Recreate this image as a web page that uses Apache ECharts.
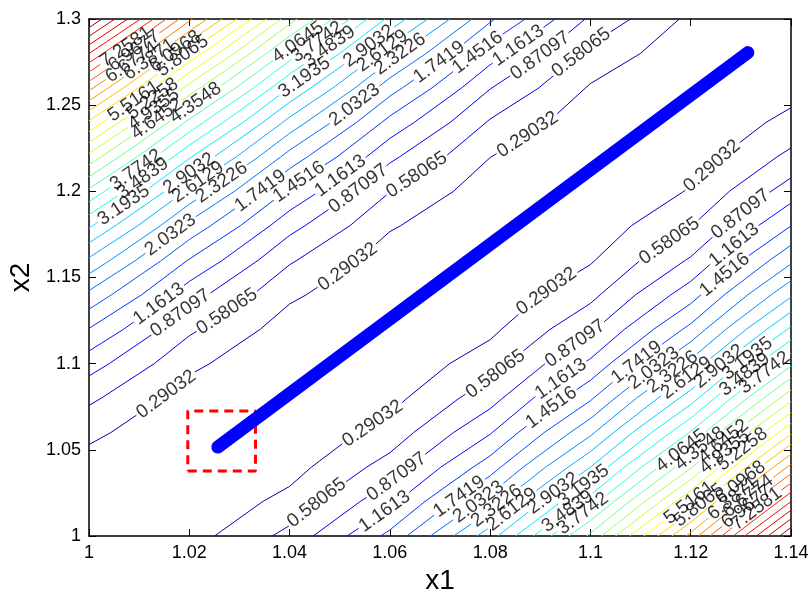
<!DOCTYPE html>
<html>
<head>
<meta charset="utf-8">
<script src="https://cdn.jsdelivr.net/npm/echarts@6/dist/echarts.min.js"></script>
<style>
  html, body { margin: 0; padding: 0; background: #fff; }
  #chart { width: 811px; height: 596px; }
</style>
</head>
<body>
<div id="chart"></div>
<script>
const FONT = '"Liberation Sans", Arial, Helvetica, sans-serif';
const LABEL_SIZE = 19;

// axis ranges
const x1Range = [1, 1.14];
const x2Range = [1, 1.3];

// nodes on which the surface is sampled
const gridX1 = [1.00, 1.02, 1.04, 1.06, 1.08, 1.10, 1.12, 1.14];
const gridX2 = [1.00, 1.02, 1.04, 1.06, 1.08, 1.10, 1.12, 1.14,
                1.16, 1.18, 1.20, 1.22, 1.24, 1.26, 1.28, 1.30];

// contour levels
const contourLevels = [0.29032, 0.58065, 0.87097, 1.1613, 1.4516, 1.7419, 2.0323, 2.3226,
  2.6129, 2.9032, 3.1935, 3.4839, 3.7742, 4.0645, 4.3548, 4.6452, 4.9355, 5.2258,
  5.5161, 5.8065, 6.0968, 6.3871, 6.6774, 6.9677, 7.2581, 7.5484, 7.8387, 8.129,
  8.4194, 8.7097];
const zRange = [0, 9];

// iterate path of the optimiser
const pathX1 = [1.0257, 1.1314];
const pathX2 = [1.0516, 1.2805];

// starting-region box
const boxX1 = [1.0197, 1.0332];
const boxX2 = [1.0377, 1.0726];

// contour label anchors: [level, x1, x2]
const labelAnchors = [
  [0.29032, 1.0147, 1.0846], [0.29032, 1.0520, 1.1544], [0.29032, 1.0875, 1.2328],
  [0.58065, 1.0276, 1.1299], [0.58065, 1.0660, 1.2067], [0.58065, 1.0985, 1.2794],
  [0.87097, 1.0185, 1.1282], [0.87097, 1.0534, 1.2026], [0.87097, 1.0901, 1.2782],
  [1.1613, 1.0141, 1.1340], [1.1613, 1.0500, 1.2096], [1.1613, 1.0859, 1.2834],
  [1.4516, 1.0420, 1.2049], [1.4516, 1.0775, 1.2805],
  [1.7419, 1.0340, 1.2009], [1.7419, 1.0699, 1.2747],
  [2.0323, 1.0167, 1.1730], [2.0323, 1.0530, 1.2500],
  [2.3226, 1.0264, 1.2055], [2.3226, 1.0624, 1.2782],
  [2.6129, 1.0221, 1.2038], [2.6129, 1.0586, 1.2811],
  [2.9032, 1.0197, 1.2113], [2.9032, 1.0556, 1.2852],
  [3.1935, 1.0073, 1.1904], [3.1935, 1.0430, 1.2660],
  [3.4839, 1.0107, 1.2078], [3.4839, 1.0484, 1.2823],
  [3.7742, 1.0091, 1.2137], [3.7742, 1.0456, 1.2863],
  [4.0645, 1.0416, 1.2869],
  [4.3548, 1.0211, 1.2520], [4.6452, 1.0125, 1.2462], [4.9355, 1.0121, 1.2509],
  [5.2258, 1.0117, 1.2578], [5.5161, 1.0087, 1.2532], [5.8065, 1.0185, 1.2794],
  [6.0968, 1.0165, 1.2840], [6.3871, 1.0117, 1.2782], [6.6774, 1.0081, 1.2765],
  [6.9677, 1.0091, 1.2811], [7.2581, 1.0073, 1.2840],

  [0.29032, 1.0571, 1.0625], [0.29032, 1.0923, 1.1369], [0.29032, 1.1254, 1.2113],
  [0.58065, 1.0460, 1.0172], [0.58065, 1.0813, 1.0933], [0.58065, 1.1160, 1.1701],
  [0.87097, 1.0616, 1.0334], [0.87097, 1.0969, 1.1119], [0.87097, 1.1308, 1.1834],
  [1.1613, 1.0591, 1.0137], [1.1613, 1.0943, 1.0904], [1.1613, 1.1290, 1.1677],
  [1.4516, 1.0923, 1.0741], [1.4516, 1.1268, 1.1515],
  [1.7419, 1.0739, 1.0224], [1.7419, 1.1093, 1.1003],
  [2.0323, 1.0779, 1.0189], [2.0323, 1.1125, 1.0980],
  [2.3226, 1.0815, 1.0166], [2.3226, 1.1164, 1.0951],
  [2.6129, 1.0845, 1.0148], [2.6129, 1.1192, 1.0916],
  [2.9032, 1.0929, 1.0235], [2.9032, 1.1246, 1.1020],
  [3.1935, 1.0989, 1.0282], [3.1935, 1.1305, 1.1061],
  [3.4839, 1.0953, 1.0148], [3.4839, 1.1309, 1.0933],
  [3.7742, 1.0985, 1.0131], [3.7742, 1.1354, 1.0922],
  [4.0645, 1.1188, 1.0468], [4.3548, 1.1218, 1.0509], [4.6452, 1.1272, 1.0526],
  [4.9355, 1.1278, 1.0451], [5.2258, 1.1308, 1.0485], [5.5161, 1.1194, 1.0206],
  [5.8065, 1.1214, 1.0189], [6.0968, 1.1304, 1.0294], [6.3871, 1.1284, 1.0218],
  [6.6774, 1.1318, 1.0218], [6.9677, 1.1314, 1.0160], [7.2581, 1.1334, 1.0148]
];

// Rosenbrock objective
function objective(x1, x2) {
  return 100 * (x2 - x1 * x1) * (x2 - x1 * x1) + (1 - x1) * (1 - x1);
}

// 64-entry jet colormap
function jetMap(m) {
  const n = Math.ceil(m / 4), u = [];
  for (let k = 1; k <= n; k++) u.push(k / n);
  for (let k = 1; k < n; k++) u.push(1);
  for (let k = n; k >= 1; k--) u.push(k / n);
  const cmap = Array.from({ length: m }, () => [0, 0, 0]);
  const g0 = Math.ceil(n / 2) - (m % 4 === 1 ? 1 : 0);
  u.forEach((val, k) => {
    const g = g0 + k + 1, r = g + n, b = g - n;
    if (g >= 1 && g <= m) cmap[g - 1][1] = val;
    if (r >= 1 && r <= m) cmap[r - 1][0] = val;
    if (b >= 1 && b <= m) cmap[b - 1][2] = val;
  });
  return cmap;
}
const JET = jetMap(64);
function levelColor(level) {
  const idx = Math.max(0, Math.min(63, Math.floor((level - zRange[0]) / (zRange[1] - zRange[0]) * 64)));
  const c = JET[idx];
  return 'rgb(' + c.map(v => Math.round(v * 255)).join(',') + ')';
}

const field = gridX2.map(y => gridX1.map(x => objective(x, y)));

// marching squares: returns polylines (data coords) for one level
function traceLevel(level) {
  const nx = gridX1.length, ny = gridX2.length;
  const pts = {}, links = {};
  const above = (i, j) => field[j][i] >= level;
  function edge(i0, j0, i1, j1) {
    const key = i0 + ',' + j0 + ',' + i1 + ',' + j1;
    if (!pts[key]) {
      const a = field[j0][i0], b = field[j1][i1];
      const t = (level - a) / (b - a);
      pts[key] = [gridX1[i0] + t * (gridX1[i1] - gridX1[i0]),
                  gridX2[j0] + t * (gridX2[j1] - gridX2[j0])];
    }
    return key;
  }
  function link(a, b) {
    (links[a] = links[a] || []).push(b);
    (links[b] = links[b] || []).push(a);
  }
  for (let j = 0; j < ny - 1; j++) {
    for (let i = 0; i < nx - 1; i++) {
      const bl = above(i, j), br = above(i + 1, j), tr = above(i + 1, j + 1), tl = above(i, j + 1);
      const B = bl !== br ? edge(i, j, i + 1, j) : null;
      const R = br !== tr ? edge(i + 1, j, i + 1, j + 1) : null;
      const T = tl !== tr ? edge(i, j + 1, i + 1, j + 1) : null;
      const L = bl !== tl ? edge(i, j, i, j + 1) : null;
      const crossed = [B, R, T, L].filter(Boolean);
      if (crossed.length === 2) {
        link(crossed[0], crossed[1]);
      } else if (crossed.length === 4) {
        const centre = (field[j][i] + field[j][i + 1] + field[j + 1][i + 1] + field[j + 1][i]) / 4 >= level;
        if (centre === bl) { link(B, R); link(T, L); } else { link(B, L); link(R, T); }
      }
    }
  }
  const used = new Set(), lines = [];
  const walk = start => {
    const chain = [start];
    used.add(start);
    let cur = start;
    for (;;) {
      const nxt = links[cur].find(k => !used.has(k));
      if (!nxt) break;
      used.add(nxt);
      chain.push(nxt);
      cur = nxt;
    }
    return chain.map(k => pts[k]);
  };
  const keys = Object.keys(links);
  keys.filter(k => links[k].length === 1).forEach(k => { if (!used.has(k)) lines.push(walk(k)); });
  keys.forEach(k => {
    if (!used.has(k)) { const c = walk(k); c.push(c[0]); lines.push(c); }
  });
  return lines.filter(l => l.length > 1);
}

const chart = echarts.init(document.getElementById('chart'), null, { renderer: 'canvas' });

const axisBase = {
  type: 'value',
  axisLine: { show: true, onZero: false, lineStyle: { color: '#000', width: 1.5 } },
  axisTick: { show: true, inside: true, length: 7, lineStyle: { color: '#000', width: 1 } },
  splitLine: { show: false },
  minorTick: { show: false }
};
const tickText = { fontSize: 18, fontFamily: FONT, color: '#000' };
const nameText = { fontSize: 28, fontFamily: FONT, color: '#000' };

chart.setOption({
  animation: false,
  backgroundColor: '#fff',
  grid: { left: 89, right: 20, top: 19, bottom: 60, containLabel: false, outerBoundsMode: 'none' },
  xAxis: [
    Object.assign({}, axisBase, {
      min: x1Range[0], max: x1Range[1], interval: 0.02, position: 'bottom',
      name: 'x1', nameLocation: 'middle', nameGap: 29, nameTextStyle: nameText,
      axisLabel: Object.assign({ margin: 8 }, tickText)
    }),
    Object.assign({}, axisBase, {
      min: x1Range[0], max: x1Range[1], interval: 0.02, position: 'top',
      axisLabel: { show: false }
    })
  ],
  yAxis: [
    Object.assign({}, axisBase, {
      min: x2Range[0], max: x2Range[1], interval: 0.05, position: 'left',
      name: 'x2', nameLocation: 'middle', nameGap: 52, nameTextStyle: nameText,
      axisLabel: Object.assign({ margin: 8 }, tickText)
    }),
    Object.assign({}, axisBase, {
      min: x2Range[0], max: x2Range[1], interval: 0.05, position: 'right',
      axisLabel: { show: false }
    })
  ],
  series: []
});

const toPx = p => chart.convertToPixel({ xAxisIndex: 0, yAxisIndex: 0 }, p);

function makePoly(data) {
  const pix = data.map(toPx);
  const cum = [0];
  for (let k = 1; k < pix.length; k++) {
    cum.push(cum[k - 1] + Math.hypot(pix[k][0] - pix[k - 1][0], pix[k][1] - pix[k - 1][1]));
  }
  return { data, pix, cum };
}

function pointAt(poly, s) {
  const c = poly.cum;
  let k = 0;
  while (k < c.length - 2 && c[k + 1] < s) k++;
  const span = (c[k + 1] - c[k]) || 1;
  const t = Math.max(0, Math.min(1, (s - c[k]) / span));
  const lerp = (u, v) => [u[0] + t * (v[0] - u[0]), u[1] + t * (v[1] - u[1])];
  return { data: lerp(poly.data[k], poly.data[k + 1]), pix: lerp(poly.pix[k], poly.pix[k + 1]) };
}

function splitPoly(poly, intervals) {
  const total = poly.cum[poly.cum.length - 1];
  const sorted = intervals.slice().sort((a, b) => a[0] - b[0]);
  const keep = [];
  let start = 0;
  sorted.forEach(([a, b]) => {
    if (a > start) keep.push([start, a]);
    start = Math.max(start, b);
  });
  if (start < total) keep.push([start, total]);
  return keep.filter(([a, b]) => b - a > 0.5).map(([a, b]) => {
    const out = [pointAt(poly, a).data];
    for (let k = 0; k < poly.cum.length; k++) {
      if (poly.cum[k] > a && poly.cum[k] < b) out.push(poly.data[k]);
    }
    out.push(pointAt(poly, b).data);
    return out;
  });
}

const measure = document.createElement('canvas').getContext('2d');
measure.font = LABEL_SIZE + 'px ' + FONT;

const levelLines = contourLevels.map(level => traceLevel(level).map(makePoly));
const cuts = levelLines.map(polys => polys.map(() => []));
const labelItems = [];

labelAnchors.forEach(([level, ax, ay]) => {
  const li = contourLevels.indexOf(level);
  if (li < 0) return;
  const polys = levelLines[li];
  const a = toPx([ax, ay]);
  let best = null;
  polys.forEach((poly, pi) => {
    for (let k = 0; k < poly.pix.length - 1; k++) {
      const p = poly.pix[k], q = poly.pix[k + 1];
      const dx = q[0] - p[0], dy = q[1] - p[1];
      const len2 = dx * dx + dy * dy || 1e-9;
      let t = ((a[0] - p[0]) * dx + (a[1] - p[1]) * dy) / len2;
      t = Math.max(0, Math.min(1, t));
      const d = Math.hypot(a[0] - (p[0] + t * dx), a[1] - (p[1] + t * dy));
      if (!best || d < best.d) best = { d, pi, s: poly.cum[k] + t * (poly.cum[k + 1] - poly.cum[k]) };
    }
  });
  if (!best) return;
  const poly = polys[best.pi];
  const text = String(level);
  const half = measure.measureText(text).width / 2 + 2;
  const total = poly.cum[poly.cum.length - 1];
  const p0 = pointAt(poly, Math.max(0, best.s - half));
  const p1 = pointAt(poly, Math.min(total, best.s + half));
  const centre = pointAt(poly, best.s);
  let ang = Math.atan2(-(p1.pix[1] - p0.pix[1]), p1.pix[0] - p0.pix[0]) * 180 / Math.PI;
  if (ang > 90) ang -= 180;
  if (ang < -90) ang += 180;
  cuts[li][best.pi].push([best.s - half, best.s + half]);
  labelItems.push({ value: centre.data, label: { rotate: ang, formatter: text } });
});

const series = [];
levelLines.forEach((polys, li) => {
  const color = levelColor(contourLevels[li]);
  polys.forEach((poly, pi) => {
    splitPoly(poly, cuts[li][pi]).forEach(piece => {
      series.push({
        type: 'line', data: piece, symbol: 'none', silent: true, z: 2,
        lineStyle: { color, width: 1 }, animation: false
      });
    });
  });
});

series.push({
  type: 'line', name: 'box', z: 3, symbol: 'none', silent: true,
  data: [[boxX1[0], boxX2[0]], [boxX1[1], boxX2[0]], [boxX1[1], boxX2[1]],
         [boxX1[0], boxX2[1]], [boxX1[0], boxX2[0]]],
  lineStyle: { color: '#ff0000', width: 3, type: [9, 6] }
});

series.push({
  type: 'line', name: 'path', z: 4, symbol: 'none', silent: true,
  data: pathX1.map((x, i) => [x, pathX2[i]]),
  lineStyle: { color: '#0000ff', width: 13, cap: 'round' }
});

series.push({
  type: 'scatter', name: 'labels', z: 5, silent: true, symbolSize: 0,
  itemStyle: { color: 'rgba(0,0,0,0)' },
  label: { show: true, position: 'inside', color: '#000', fontSize: LABEL_SIZE, fontFamily: FONT },
  data: labelItems
});

chart.setOption({ series });
</script>
</body>
</html>
